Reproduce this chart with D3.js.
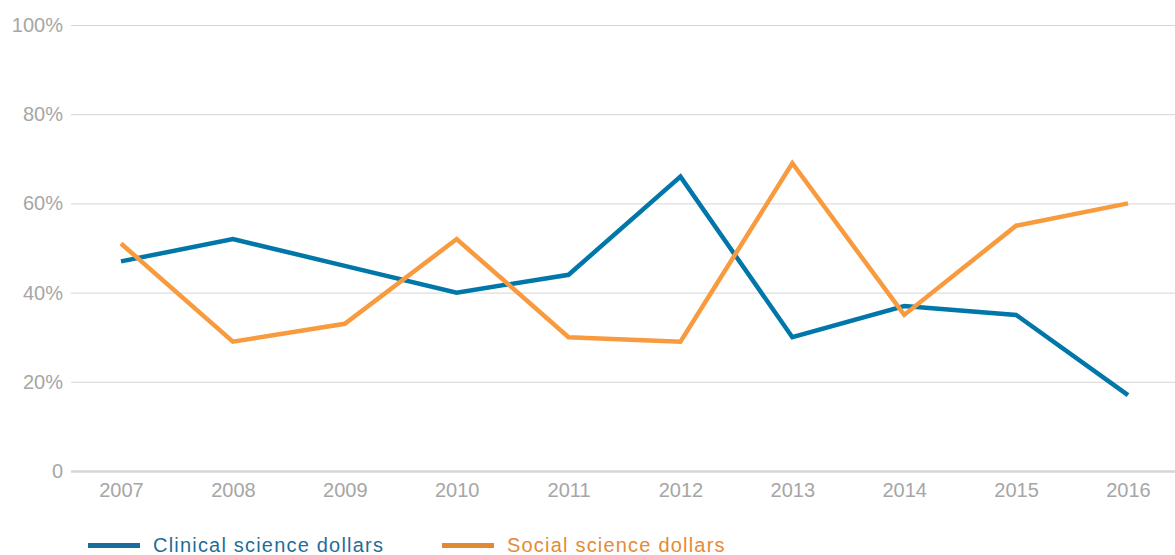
<!DOCTYPE html>
<html>
<head>
<meta charset="utf-8">
<script src="https://cdn.jsdelivr.net/npm/d3@7"></script>
<style>
  body { margin: 0; background: #fff; }
  text { font-family: "Liberation Sans", Arial, sans-serif; }
</style>
</head>
<body>
<div id="chart"></div>
<script>
var years = ["2007","2008","2009","2010","2011","2012","2013","2014","2015","2016"];
var clinical = [47, 52, 46, 40, 44, 66, 30, 37, 35, 17];
var social = [51, 29, 33, 52, 30, 29, 69, 35, 55, 60];
var yTicks = [0, 20, 40, 60, 80, 100];
var seriesNames = ["Clinical science dollars", "Social science dollars"];

var w = 1175, h = 555;
var plotLeft = 71, plotRight = 1175, plotTop = 25, plotBottom = 471;

var svg = d3.select("#chart").append("svg")
    .attr("width", w)
    .attr("height", h);

var x = d3.scalePoint()
    .domain(years)
    .range([121, 1128]);

var y = d3.scaleLinear()
    .domain([0, 100])
    .range([plotBottom, plotTop]);

// gridlines + y labels
var yAxis = d3.axisLeft(y)
    .tickValues(yTicks)
    .tickSize(-(plotRight - plotLeft))
    .tickPadding(8)
    .tickFormat(function(d){ return d === 0 ? "0" : d + "%"; });

var gy = svg.append("g")
    .attr("transform", "translate(" + plotLeft + ",0)")
    .call(yAxis);
gy.select(".domain").remove();
gy.selectAll(".tick line")
    .attr("stroke", "#d6d6d6")
    .attr("stroke-width", function(d){ return d === 0 ? 2.5 : 1; });
gy.selectAll(".tick text")
    .attr("fill", "#a6a6a6")
    .style("font-size", "20px");

// x labels
var xAxis = d3.axisBottom(x).tickSize(0).tickPadding(12);
var gx = svg.append("g")
    .attr("transform", "translate(0," + plotBottom + ")")
    .call(xAxis);
gx.select(".domain").remove();
gx.selectAll(".tick text")
    .attr("fill", "#a6a6a6")
    .style("font-size", "20px");

var line = d3.line()
    .x(function(d, i){ return x(years[i]); })
    .y(function(d){ return y(d); });

var colors = ["#0077a8", "#f89a3e"];
var textColors = ["#1f6d99", "#e38b36"];

[clinical, social].forEach(function(s, k){
    svg.append("path")
        .datum(s)
        .attr("d", line)
        .attr("fill", "none")
        .attr("stroke", colors[k])
        .attr("stroke-width", 4.5)
        .attr("stroke-linejoin", "miter");
});

// legend
var legendX = [88, 442];
seriesNames.forEach(function(name, k){
    svg.append("rect")
        .attr("x", legendX[k])
        .attr("y", 543)
        .attr("width", 52)
        .attr("height", 5)
        .attr("fill", k === 0 ? "#1a6c9c" : "#e08a36");
    svg.append("text")
        .attr("x", legendX[k] + 65)
        .attr("y", 552)
        .attr("fill", textColors[k])
        .style("font-size", "20px")
        .style("letter-spacing", "1.2px")
        .text(name);
});
</script>
</body>
</html>
